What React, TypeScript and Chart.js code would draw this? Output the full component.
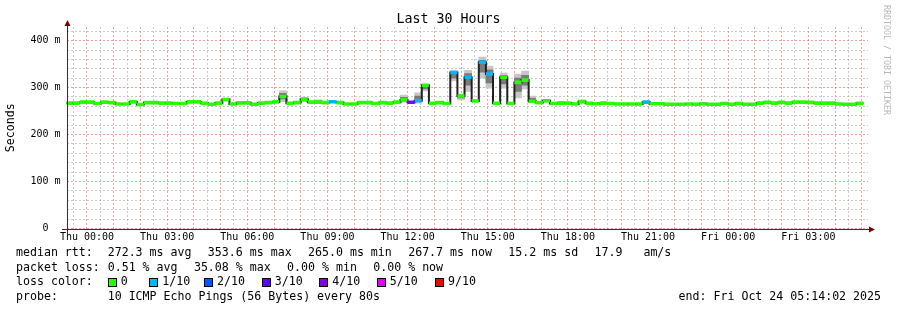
import React, { useEffect, useRef } from "react";
import { Chart, registerables } from "chart.js";

Chart.register(...registerables);

// time axis: hours relative to Thu 00:00
const RANGE_START = -(46 / 60 + 2 / 3600); // Wed 23:14:02
const RANGE_END = RANGE_START + 30; // Fri 05:14:02
const BIN_HOURS = 16 / 60;
const FIRST_BIN = RANGE_START - 0.035;

// median rtt per 16-minute bin (ms)
const medianMs = [
  267, 267, 269, 269, 266, 269, 268, 265, 265, 269.5,
  264, 268, 268, 267, 267, 266, 266, 269.5, 269.5, 266.5,
  264.5, 267, 274.5, 265, 267.5, 267.5, 264.5, 267, 268, 269.5,
  281, 266.5, 268, 275, 269, 269, 268, 270, 268, 265,
  265, 268, 268, 266, 268, 267, 269, 273.8, 268.8, 272,
  305, 266.5, 268, 266, 332, 282, 322, 271.5, 354, 329,
  266.5, 322, 266, 311, 316, 271, 268, 272, 266, 267,
  267, 265, 270, 266.5, 265.5, 267, 266, 265, 265, 265,
  265, 269, 265.5, 265.5, 264.5, 264.5, 264.5, 265, 264.5, 265.5,
  264.5, 264.5, 266, 264.5, 266, 264.5, 264.5, 267, 268.5, 267,
  268.5, 267, 269, 269, 268.5, 267, 267, 267, 265, 264.5,
  264.5, 266.5,
];

// lost pings (of 10) for bins with loss
const lossBins = [37, 48, 49, 54, 56, 58, 59, 81];
const lossPings = [0.3, 3.5, 0.3, 0.3, 0.3, 0.3, 0.3, 0.3];

// smoke (spread of the individual pings) for bins where it is visible
const smokeBins = [30, 33, 35, 47, 49, 50, 54, 55, 56, 58, 59, 61, 63, 64, 65, 67, 69, 72];
const smokeMin = [270, 270, 267, 269, 267, 293, 314, 274, 292, 320, 299, 299, 278, 297, 268, 269, 265, 267];
const smokeLowQ = [276, 273, 269, 271, 270, 297, 320, 278, 305, 333, 310, 308, 292, 305, 270, 270, 266, 268];
const smokeHighQ = [288, 277, 272, 279, 282, 304, 333, 284, 330, 358, 338, 326, 320, 326, 277, 273, 269, 272];
const smokeMax = [293, 279, 274, 284, 289, 307, 336, 286, 337, 365, 346, 331, 329, 335, 282, 275, 270, 274];

const lossKeys = [0, 1, 2, 3, 4, 5, 9];
const lossLabels = ["0", "1/10", "2/10", "3/10", "4/10", "5/10", "9/10"];
const lossColors = ["#26ff00", "#00b8ff", "#0059ff", "#5e00ff", "#7e00ff", "#dd00ff", "#ff0000"];

const yMaxMs = 429;
const yStepMs = 20;
const yLabelStepMs = 100;
const xStepHours = 0.5;
const xLabelStepHours = 3;
const dayNames = ["Thu", "Fri"];

const titleText = "Last 30 Hours";
const yTitle = "Seconds";
const rttLabel = "median rtt:";
const rttItems = ["272.3 ms avg", "353.6 ms max", "265.0 ms min", "267.7 ms now", "15.2 ms sd", "17.9   am/s"];
const lossLabel = "packet loss:";
const lossItems = ["0.51 % avg", "35.08 % max", "0.00 % min", "0.00 % now"];
const lossRowLabel = "loss color:";
const probeLabel = "probe:";
const probeText = "10 ICMP Echo Pings (56 Bytes) every 80s";
const endText = "end: Fri Oct 24 05:14:02 2025";
const watermark = "RRDTOOL / TOBI OETIKER";

const MONO = '"DejaVu Sans Mono", monospace';
const GRID_MINOR = "rgba(150,150,150,0.5)";
const GRID_MAJOR = "rgba(235,60,60,0.5)";

function lossColor(l: number): string {
  for (let k = 0; k < lossKeys.length; k++) if (l <= lossKeys[k]) return lossColors[k];
  return lossColors[lossColors.length - 1];
}

const lossFull: number[] = medianMs.map(() => 0);
lossBins.forEach((b, k) => (lossFull[b] = lossPings[k]));

const binStart = (i: number) => FIRST_BIN + i * BIN_HOURS;

const textPlugin = {
  id: "rrdText",
  afterDraw(chart: any) {
    const { ctx, chartArea, scales } = chart;
    const yScale = scales.y;
    const x0 = chartArea.left;
    const yb = yScale.getPixelForValue(0);
    ctx.save();

    // axes
    ctx.strokeStyle = "#303030";
    ctx.lineWidth = 1;
    ctx.beginPath();
    ctx.moveTo(Math.round(x0) - 5, Math.round(yb) + 0.5);
    ctx.lineTo(chartArea.right + 1, Math.round(yb) + 0.5);
    ctx.moveTo(Math.round(x0) + 0.5, Math.round(yb) + 4);
    ctx.lineTo(Math.round(x0) + 0.5, chartArea.top - 3);
    ctx.stroke();
    ctx.fillStyle = "#7f0000";
    ctx.beginPath();
    const ar = chartArea.right + 1;
    ctx.moveTo(ar, Math.round(yb) + 0.5 - 3);
    ctx.lineTo(ar + 6, Math.round(yb) + 0.5);
    ctx.lineTo(ar, Math.round(yb) + 0.5 + 3);
    ctx.closePath();
    ctx.fill();
    ctx.beginPath();
    const ax = Math.round(x0) + 0.5;
    ctx.moveTo(ax - 3, chartArea.top - 1);
    ctx.lineTo(ax, chartArea.top - 7);
    ctx.lineTo(ax + 3, chartArea.top - 1);
    ctx.closePath();
    ctx.fill();

    // title
    ctx.fillStyle = "#000";
    ctx.textBaseline = "middle";
    ctx.textAlign = "center";
    ctx.font = `13.3px ${MONO}`;
    ctx.fillText(titleText, 448.5, 19.5);

    // y title
    ctx.font = `11.6px ${MONO}`;
    ctx.save();
    ctx.translate(11, (chartArea.top + chartArea.bottom) / 2);
    ctx.rotate(-Math.PI / 2);
    ctx.fillText(yTitle, 0, 0);
    ctx.restore();

    // watermark
    ctx.save();
    ctx.fillStyle = "#b8b8b8";
    ctx.font = `8.3px ${MONO}`;
    ctx.translate(886.5, 5);
    ctx.rotate(Math.PI / 2);
    ctx.textAlign = "left";
    ctx.fillText(watermark, 0, 0);
    ctx.restore();

    // legend
    ctx.font = `11.6px ${MONO}`;
    ctx.textAlign = "left";
    ctx.fillStyle = "#000";
    const rowY = [253, 267.7, 282.2, 296.7];
    const col2 = 107.7;
    const gap = 16.4;
    const drawItems = (label: string, items: string[], y: number) => {
      ctx.fillText(label, 16, y);
      let x = col2;
      items.forEach((it) => {
        ctx.fillText(it, x, y);
        x += ctx.measureText(it).width + gap;
      });
    };
    drawItems(rttLabel, rttItems, rowY[0]);
    drawItems(lossLabel, lossItems, rowY[1]);
    ctx.fillText(lossRowLabel, 16, rowY[2]);
    const boxX = [107.7, 149.3, 204, 261.7, 319.3, 376.7, 435];
    lossLabels.forEach((lab, k) => {
      const bx = Math.round(boxX[k]);
      const by = Math.round(rowY[2] - 4.5);
      ctx.fillStyle = lossColors[k];
      ctx.fillRect(bx, by, 9, 9);
      ctx.strokeStyle = "#000";
      ctx.strokeRect(bx + 0.5, by + 0.5, 8, 8);
      ctx.fillStyle = "#000";
      ctx.fillText(lab, boxX[k] + 13, rowY[2]);
    });
    drawItems(probeLabel, [probeText], rowY[3]);
    ctx.textAlign = "right";
    ctx.fillText(endText, 881, rowY[3]);
    ctx.restore();
  },
};

export default function App() {
  const ref = useRef<HTMLCanvasElement | null>(null);

  useEffect(() => {
    if (!ref.current) return;

    const stepLine = medianMs.map((v, i) => ({ x: binStart(i), y: v }));
    stepLine.push({ x: binStart(medianMs.length), y: medianMs[medianMs.length - 1] });

    const colored: any[] = [];
    medianMs.forEach((v, i) => {
      colored.push({ x: binStart(i), y: v }, { x: binStart(i + 1), y: v }, { x: binStart(i + 1), y: null });
    });

    const smokeOuter = smokeBins.map((b, k) => ({ x: binStart(b) + BIN_HOURS / 2, y: [smokeMin[k], smokeMax[k]] }));
    const smokeInner = smokeBins.map((b, k) => ({ x: binStart(b) + BIN_HOURS / 2, y: [smokeLowQ[k], smokeHighQ[k]] }));

    const xTicks: number[] = [];
    for (let v = Math.ceil(RANGE_START / xStepHours) * xStepHours; v < RANGE_END; v += xStepHours) xTicks.push(v);
    const yTicks: number[] = [];
    for (let v = 0; v <= yMaxMs; v += yStepMs) yTicks.push(v);

    const isMajorX = (v: number) => Math.abs(v - Math.round(v)) < 1e-6;

    const chart = new Chart(ref.current, {
      type: "line",
      data: {
        datasets: [
          {
            type: "bar",
            data: smokeOuter as any,
            backgroundColor: "#c6c6c6",
            borderWidth: 0,
            barPercentage: 1,
            categoryPercentage: 1,
            grouped: false,
            order: 4,
          } as any,
          {
            type: "bar",
            data: smokeInner as any,
            backgroundColor: "#7a7a7a",
            borderWidth: 0,
            barPercentage: 1,
            categoryPercentage: 1,
            grouped: false,
            order: 3,
          } as any,
          {
            type: "line",
            data: stepLine as any,
            stepped: true,
            borderColor: "#202020",
            borderWidth: 2,
            pointRadius: 0,
            order: 2,
          },
          {
            type: "line",
            data: colored as any,
            borderColor: lossColors[0],
            borderWidth: 3.6,
            borderCapStyle: "butt",
            pointRadius: 0,
            spanGaps: false,
            segment: {
              borderColor: (c: any) => lossColor(lossFull[Math.floor(c.p0DataIndex / 3)]),
            },
            order: 1,
          } as any,
        ],
      },
      options: {
        animation: false,
        responsive: false,
        devicePixelRatio: 1,
        events: [],
        layout: { padding: { left: 0, right: 29, top: 27, bottom: 0 } },
        plugins: { legend: { display: false }, tooltip: { enabled: false }, title: { display: false } },
        scales: {
          x: {
            type: "linear",
            min: RANGE_START,
            max: RANGE_END,
            offset: false,
            grid: {
              offset: false,
              drawTicks: false,
              lineWidth: 1,
              color: (c: any) => (isMajorX(c.tick?.value ?? 0) ? GRID_MAJOR : GRID_MINOR),
            },
            border: { display: false, dash: [2, 2] },
            afterBuildTicks: (s: any) => {
              s.ticks = xTicks.map((v) => ({ value: v }));
            },
            afterFit: (s: any) => {
              s.height = 310 - 228.5;
            },
            ticks: {
              autoSkip: false,
              maxRotation: 0,
              minRotation: 0,
              padding: 3,
              color: "#000",
              font: { family: "DejaVu Sans Mono", size: 10 },
              callback: (value: any) => {
                const v = Number(value);
                const r = Math.round(v);
                if (Math.abs(v - r) > 1e-6 || ((r % xLabelStepHours) + xLabelStepHours) % xLabelStepHours !== 0) return "";
                const day = Math.floor(r / 24);
                const hh = r - day * 24;
                return `${dayNames[day]} ${String(hh).padStart(2, "0")}:00`;
              },
            },
          },
          y: {
            type: "linear",
            min: 0,
            max: yMaxMs,
            grid: {
              drawTicks: false,
              lineWidth: 1,
              color: (c: any) => ((c.tick?.value ?? 0) % yLabelStepMs === 0 ? GRID_MAJOR : GRID_MINOR),
            },
            border: { display: false, dash: [2, 2] },
            afterBuildTicks: (s: any) => {
              s.ticks = yTicks.map((v) => ({ value: v }));
            },
            afterFit: (s: any) => {
              s.width = 66.5;
            },
            ticks: {
              autoSkip: false,
              padding: 6,
              color: "#000",
              font: { family: "DejaVu Sans Mono", size: 10 },
              callback: (value: any) => {
                const v = Number(value);
                if (v % yLabelStepMs !== 0) return "";
                return v === 0 ? "0  " : `${v} m`;
              },
            },
          },
        },
      },
      plugins: [textPlugin],
    } as any);

    return () => chart.destroy();
  }, []);

  return (
    <div style={{ position: "fixed", left: 0, top: 0, width: 897, height: 310, background: "#fff" }}>
      <canvas ref={ref} width={897} height={310} style={{ display: "block" }} />
    </div>
  );
}
